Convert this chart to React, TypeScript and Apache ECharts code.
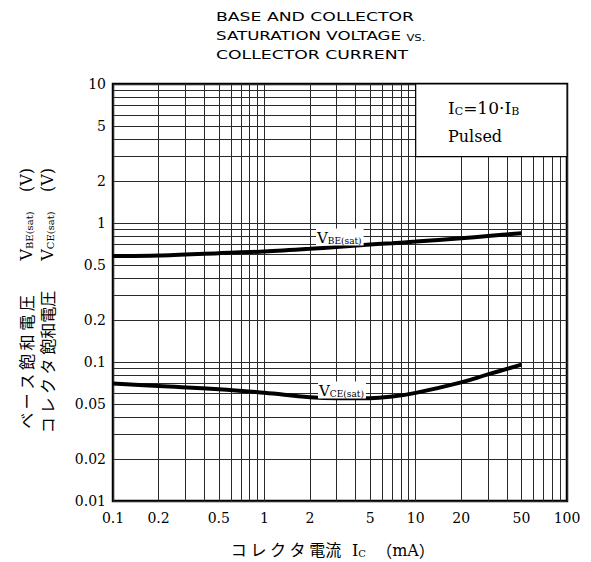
import React, { useEffect, useRef } from "react";
import * as echarts from "echarts";

// ---- data ----
const xTickLabels = [0.1, 0.2, 0.5, 1, 2, 5, 10, 20, 50, 100];
const yTickLabels = [0.01, 0.02, 0.05, 0.1, 0.2, 0.5, 1, 2, 5, 10];
const xGridValues = [0.1, 0.2, 0.3, 0.4, 0.5, 0.6, 0.7, 0.8, 0.9, 1, 2, 3, 4, 5, 6, 7, 8, 9, 10, 20, 30, 40, 50, 60, 70, 80, 90, 100];
const yGridValues = [0.01, 0.02, 0.03, 0.04, 0.05, 0.06, 0.07, 0.08, 0.09, 0.1, 0.2, 0.3, 0.4, 0.5, 0.6, 0.7, 0.8, 0.9, 1, 2, 3, 4, 5, 6, 7, 8, 9, 10];
const icValues = [0.1, 0.2, 0.5, 1, 2, 3, 5, 7, 10, 20, 30, 50];
const vbeSatValues = [0.578, 0.584, 0.607, 0.624, 0.652, 0.673, 0.70, 0.716, 0.735, 0.777, 0.806, 0.844];
const vceSatValues = [0.070, 0.0672, 0.0638, 0.060, 0.0558, 0.0548, 0.0549, 0.0565, 0.060, 0.0714, 0.0814, 0.0957];
const noteBoxX = [10, 100];
const noteBoxY = [3, 10];

const SERIF = "DejaVu Serif";
const SANS = "DejaVu Sans";
const CJK = "Noto Sans CJK JP";

const fmt = (v: any) => String(+(+v).toPrecision(3));

export default function App() {
  const ref = useRef<HTMLDivElement>(null);
  useEffect(() => {
    if (!ref.current) return;
    const chart = echarts.init(ref.current, null, { renderer: "svg" });
    const subRich = (big: number, small: number) => ({
      v: { fontFamily: SERIF, fontSize: big, fill: "#000", lineHeight: big + 2, verticalAlign: "bottom" },
      s: { fontFamily: SERIF, fontSize: small, fill: "#000", lineHeight: small + 1, verticalAlign: "bottom" },
      j: { fontFamily: CJK, fontSize: 16, fill: "#000", lineHeight: 18, verticalAlign: "bottom" },
    });
    const vertical = (x: number, y: number, text: string) => ({
      type: "text",
      x,
      y,
      rotation: Math.PI / 2,
      z: 100,
      style: { text, rich: subRich(16, 10), align: "center", verticalAlign: "middle", fill: "#000" },
    });
    const option: any = {
      animation: false,
      backgroundColor: "#fff",
      grid: {
        left: 113,
        right: 24,
        top: 84,
        bottom: 61,
        show: true,
        borderColor: "#000",
        borderWidth: 2.5,
        backgroundColor: "transparent",
      },
      xAxis: {
        type: "log",
        logBase: 10,
        min: 0.1,
        max: 100,
        axisLine: { show: false },
        axisTick: { show: false, customValues: xGridValues },
        splitLine: { show: true, lineStyle: { color: "#2a2a2a", width: 1 } },
        axisLabel: {
          customValues: xTickLabels,
          formatter: fmt,
          fontFamily: SERIF,
          fontSize: 14,
          color: "#000",
          margin: 10,
        },
      },
      yAxis: {
        type: "log",
        logBase: 10,
        min: 0.01,
        max: 10,
        axisLine: { show: false },
        axisTick: { show: false, customValues: yGridValues },
        splitLine: { show: true, lineStyle: { color: "#2a2a2a", width: 1 } },
        axisLabel: {
          customValues: yTickLabels,
          formatter: fmt,
          fontFamily: SERIF,
          fontSize: 14,
          color: "#000",
          margin: 7,
        },
      },
      series: [
        {
          type: "line",
          name: "VBE(sat)",
          data: icValues.map((x, i) => [x, vbeSatValues[i]]),
          smooth: 0.3,
          symbol: "none",
          lineStyle: { color: "#000", width: 4 },
          z: 5,
          markArea: {
            silent: true,
            itemStyle: { color: "#fff", borderColor: "#000", borderWidth: 1.2 },
            data: [[{ coord: [noteBoxX[0], noteBoxY[0]] }, { coord: [noteBoxX[1], noteBoxY[1]] }]],
          },
        },
        {
          type: "line",
          name: "VCE(sat)",
          data: icValues.map((x, i) => [x, vceSatValues[i]]),
          smooth: 0.4,
          symbol: "none",
          lineStyle: { color: "#000", width: 4 },
          z: 5,
        },
      ],
      graphic: [
        // title
        {
          type: "text", x: 216, y: 17, scaleX: 1.5, z: 100,
          style: { text: "BASE AND COLLECTOR", fontFamily: SANS, fontSize: 11.5, fill: "#000", align: "left", verticalAlign: "middle" },
        },
        {
          type: "text", x: 216, y: 36, scaleX: 1.45, z: 100,
          style: {
            text: "SATURATION VOLTAGE {s|VS.}",
            fontFamily: SANS, fontSize: 11.5, fill: "#000", align: "left", verticalAlign: "middle",
            rich: { s: { fontFamily: SANS, fontSize: 8, fill: "#000", verticalAlign: "bottom", lineHeight: 12 } },
          },
        },
        {
          type: "text", x: 216, y: 55, scaleX: 1.5, z: 100,
          style: { text: "COLLECTOR CURRENT", fontFamily: SANS, fontSize: 11.5, fill: "#000", align: "left", verticalAlign: "middle" },
        },
        // note box text
        {
          type: "text", x: 448, y: 107, z: 100,
          style: {
            text: "{v|I}{s|C}{v|=10·I}{s|B}",
            rich: subRich(17, 11), align: "left", verticalAlign: "middle",
          },
        },
        {
          type: "text", x: 448, y: 136, z: 100,
          style: { text: "Pulsed", fontFamily: SERIF, fontSize: 16, fill: "#000", align: "left", verticalAlign: "middle" },
        },
        // curve labels
        {
          type: "text", x: 316, y: 237, z: 100,
          style: {
            text: "{v|V}{s|BE(sat)}", rich: subRich(15, 9), align: "left", verticalAlign: "middle",
            backgroundColor: "#fff", padding: [0, 2, 0, 1],
          },
        },
        {
          type: "text", x: 318, y: 390, z: 100,
          style: {
            text: "{v|V}{s|CE(sat)}", rich: subRich(15, 9), align: "left", verticalAlign: "middle",
            backgroundColor: "#fff", padding: [0, 2, 0, 1],
          },
        },
        // y axis name, two rotated columns
        vertical(25, 362, "{j|ベ ー ス 飽 和 電 圧}"),
        vertical(25, 236, "{v|V}{s|BE(sat)}"),
        vertical(25, 180, "{v|(V)}"),
        vertical(46, 362, "{j|コ レ ク タ 飽和電圧}"),
        vertical(46, 236, "{v|V}{s|CE(sat)}"),
        vertical(46, 180, "{v|(V)}"),
        // x axis name
        {
          type: "text", x: 286, y: 549, z: 100,
          style: { text: "コ レ ク タ 電流", fontFamily: CJK, fontSize: 16, fill: "#000", align: "center", verticalAlign: "middle" },
        },
        {
          type: "text", x: 352, y: 549, z: 100,
          style: {
            text: "{v|I}{s|C}{v|  }{j|（}{v|mA}{j|）}", rich: subRich(16, 10), align: "left", verticalAlign: "middle",
          },
        },
      ],
    };
    chart.setOption(option);
    return () => chart.dispose();
  }, []);
  return (
    <div
      ref={ref}
      style={{ position: "fixed", left: 0, top: 0, width: 591, height: 562, background: "#fff" }}
    />
  );
}
